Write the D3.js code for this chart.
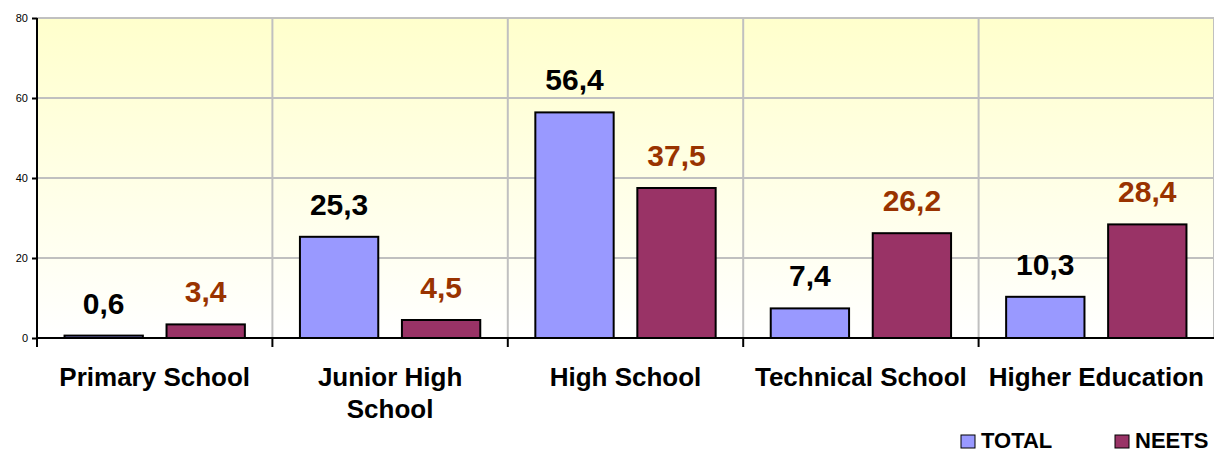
<!DOCTYPE html>
<html>
<head>
<meta charset="utf-8">
<script src="https://cdn.jsdelivr.net/npm/d3@7"></script>
<style>
  html, body { margin: 0; padding: 0; background: #fff; overflow: hidden; }
  svg { display: block; font-family: Arial, "Liberation Sans", sans-serif; }
</style>
</head>
<body>
<div id="chart"></div>
<script>
const categories = [['Primary School'], ['Junior High', 'School'], ['High School'], ['Technical School'], ['Higher Education']];
const seriesNames = ['TOTAL', 'NEETS'];
const totalValues = [0.6, 25.3, 56.4, 7.4, 10.3];
const neetsValues = [3.4, 4.5, 37.5, 26.2, 28.4];
const yTickValues = [0, 20, 40, 60, 80];

const width = 1214;
const height = 452;
const margin = {left: 37, right: 0, top: 18, bottom: 114};
const innerWidth = width - margin.left - margin.right;
const innerHeight = height - margin.top - margin.bottom;

const fillColor = {TOTAL: '#9999ff', NEETS: '#993366'};
const labelColor = {TOTAL: '#000000', NEETS: '#993300'};

const data = categories.map((c, i) => ({
  key: c.join(' '),
  lines: c,
  values: [
    {series: 'TOTAL', value: totalValues[i]},
    {series: 'NEETS', value: neetsValues[i]}
  ]
}));

const svg = d3.select('#chart').append('svg')
  .attr('width', width)
  .attr('height', height);

const defs = svg.append('defs');
const grad = defs.append('linearGradient')
  .attr('id', 'bg')
  .attr('x1', 0).attr('y1', 0).attr('x2', 0).attr('y2', 1);
grad.append('stop').attr('offset', '0%').attr('stop-color', '#ffffcc');
grad.append('stop').attr('offset', '100%').attr('stop-color', '#ffffff');

const g = svg.append('g')
  .attr('transform', `translate(${margin.left},${margin.top})`);

const xScale = d3.scaleBand()
  .domain(data.map(d => d.key))
  .range([0, innerWidth]);

const xInner = d3.scaleBand()
  .domain(seriesNames)
  .range([0, xScale.bandwidth()])
  .paddingInner(0.232)
  .paddingOuter(0.27);

const yScale = d3.scaleLinear()
  .domain([0, 80])
  .range([innerHeight, 0]);

// plot background
g.append('rect')
  .attr('x', 0).attr('y', 0)
  .attr('width', innerWidth)
  .attr('height', innerHeight)
  .attr('fill', 'url(#bg)');

// horizontal grid
g.selectAll('.hgrid').data(yTickValues.filter(v => v > 0))
  .enter().append('line')
  .attr('x1', 0).attr('x2', innerWidth)
  .attr('y1', d => yScale(d)).attr('y2', d => yScale(d))
  .attr('stroke', '#c0c0c0')
  .attr('stroke-width', 2);

// vertical grid at category boundaries
const bounds = data.slice(1).map(d => xScale(d.key)).concat([innerWidth]);
g.selectAll('.vgrid').data(bounds)
  .enter().append('line')
  .attr('x1', d => d).attr('x2', d => d)
  .attr('y1', 0).attr('y2', innerHeight)
  .attr('stroke', '#c0c0c0')
  .attr('stroke-width', 2);

// bars
const bars = data.flatMap(d => d.values.map(v => ({key: d.key, series: v.series, value: v.value})));
const barX = d => xScale(d.key) + xInner(d.series);

g.selectAll('rect.bar').data(bars)
  .enter().append('rect')
  .attr('class', 'bar')
  .attr('x', barX)
  .attr('y', d => yScale(d.value))
  .attr('width', xInner.bandwidth())
  .attr('height', d => innerHeight - yScale(d.value))
  .attr('fill', d => fillColor[d.series])
  .attr('stroke', '#000')
  .attr('stroke-width', 2);

g.selectAll('text.val').data(bars)
  .enter().append('text')
  .attr('class', 'val')
  .attr('x', d => barX(d) + xInner.bandwidth() / 2)
  .attr('y', d => yScale(d.value) - 22)
  .attr('text-anchor', 'middle')
  .attr('font-size', 30)
  .attr('font-weight', 'bold')
  .attr('fill', d => labelColor[d.series])
  .text(d => d3.format('.1f')(d.value).replace('.', ','));

// y axis
const yAxis = d3.axisLeft(yScale)
  .tickValues(yTickValues)
  .tickSize(5)
  .tickPadding(4);
const yAxisG = g.append('g').call(yAxis);
yAxisG.select('.domain').remove();
yAxisG.selectAll('.tick line').attr('stroke', '#000').attr('stroke-width', 2);
yAxisG.selectAll('.tick text')
  .attr('font-size', 11)
  .attr('font-family', 'Arial, "Liberation Sans", sans-serif')
  .attr('fill', '#000');

// axis lines
g.append('line')
  .attr('x1', 0).attr('x2', 0)
  .attr('y1', 0).attr('y2', innerHeight + 9)
  .attr('stroke', '#000').attr('stroke-width', 2);
g.append('line')
  .attr('x1', 0).attr('x2', innerWidth)
  .attr('y1', innerHeight).attr('y2', innerHeight)
  .attr('stroke', '#000').attr('stroke-width', 2);
g.selectAll('.xtick').data(bounds.slice(0, -1))
  .enter().append('line')
  .attr('x1', d => d).attr('x2', d => d)
  .attr('y1', innerHeight).attr('y2', innerHeight + 9)
  .attr('stroke', '#000').attr('stroke-width', 2);

// category labels, one text per line
const catLines = data.flatMap(d => d.lines.map((line, i) => ({key: d.key, line, i})));
g.selectAll('text.catlabel').data(catLines)
  .enter().append('text')
  .attr('class', 'catlabel')
  .attr('x', d => xScale(d.key) + xScale.bandwidth() / 2)
  .attr('y', d => innerHeight + 48 + d.i * 32)
  .attr('text-anchor', 'middle')
  .attr('font-size', 26)
  .attr('font-weight', 'bold')
  .attr('fill', '#000')
  .text(d => d.line);

// legend
const legendX = d3.scaleOrdinal().domain(seriesNames).range([961, 1115]);
svg.selectAll('rect.legend').data(seriesNames)
  .enter().append('rect')
  .attr('class', 'legend')
  .attr('x', d => legendX(d))
  .attr('y', 435)
  .attr('width', 14).attr('height', 13)
  .attr('fill', d => fillColor[d])
  .attr('stroke', '#000')
  .attr('stroke-width', 1);
svg.selectAll('text.legend').data(seriesNames)
  .enter().append('text')
  .attr('class', 'legend')
  .attr('x', d => legendX(d) + 20)
  .attr('y', 448)
  .attr('font-size', 22)
  .attr('font-weight', 'bold')
  .attr('fill', '#000')
  .text(d => d);
</script>
</body>
</html>
